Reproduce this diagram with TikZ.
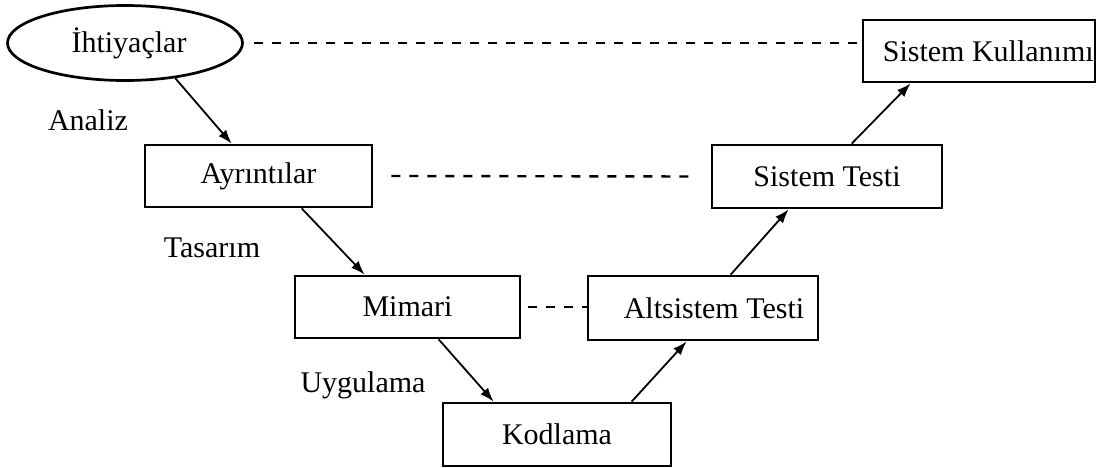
\documentclass[tikz,border=0pt]{standalone}
\usepackage{fontspec}
\setmainfont{Liberation Serif}
\usetikzlibrary{shapes.geometric,arrows.meta,calc}
\begin{document}
\begin{tikzpicture}[x=1pt,y=-1pt,
  every node/.style={font=\fontsize{30}{34}\selectfont},
  stagebox/.style={draw, line width=2.7pt, inner sep=0pt},
  conn/.style={line width=1.8pt, -{Latex[length=14pt,width=10pt]}},
  link/.style={line width=2.4pt, dash pattern=on 9pt off 9pt},
  lbl/.style={inner sep=0pt}]
\useasboundingbox (0,0) rectangle (1114,468);
\node[stagebox, ellipse, minimum width=235pt, minimum height=75pt] (ih) at (125,43) {\hspace{8pt}İhtiyaçlar};
\node[stagebox, minimum width=227pt, minimum height=62pt] (ay) at (258.5,176) {Ayrıntılar};
\node[stagebox, minimum width=225pt, minimum height=62pt] (mi) at (407.5,307) {Mimari};
\node[stagebox, minimum width=228pt, minimum height=63pt] (ko) at (557,434.5) {Kodlama};
\node[stagebox, minimum width=230pt, minimum height=64pt] (al) at (703,308) {\hspace{22pt}Altsistem Testi};
\node[stagebox, minimum width=230pt, minimum height=63pt] (st) at (827,176.5) {Sistem Testi};
\node[stagebox, minimum width=232pt, minimum height=62pt] (sk) at (979,51) {};
\node[lbl, anchor=west] (skt) at ([xshift=21pt]sk.west) {Sistem Kullanımı};
\node[lbl] (an) at (88,120) {Analiz};
\node[lbl] (ta) at (212,248) {Tasarım};
\node[lbl] (uy) at (363,385) {Uygulama};
\draw[conn] (ih.-35) -- ([xshift=88pt]ay.north west);
\draw[conn] ([xshift=158pt]ay.south west) -- ([xshift=71pt]mi.north west);
\draw[conn] ([xshift=145pt]mi.south west) -- ([xshift=52pt]ko.north west);
\draw[conn] ([xshift=190pt]ko.north west) -- ([xshift=100pt]al.south west);
\draw[conn] ([xshift=144pt]al.north west) -- ([xshift=78pt]st.south west);
\draw[conn] ([xshift=141pt]st.north west) -- ([xshift=49pt]sk.south west);
\draw[link] ([xshift=10pt]ih.east) -- (ih.east -| sk.west);
\draw[link] ([xshift=18pt]ay.east) -- ([xshift=-15pt]st.west);
\draw[link] ([xshift=7pt]mi.east) -- (mi.east -| al.west);
\end{tikzpicture}
\end{document}
